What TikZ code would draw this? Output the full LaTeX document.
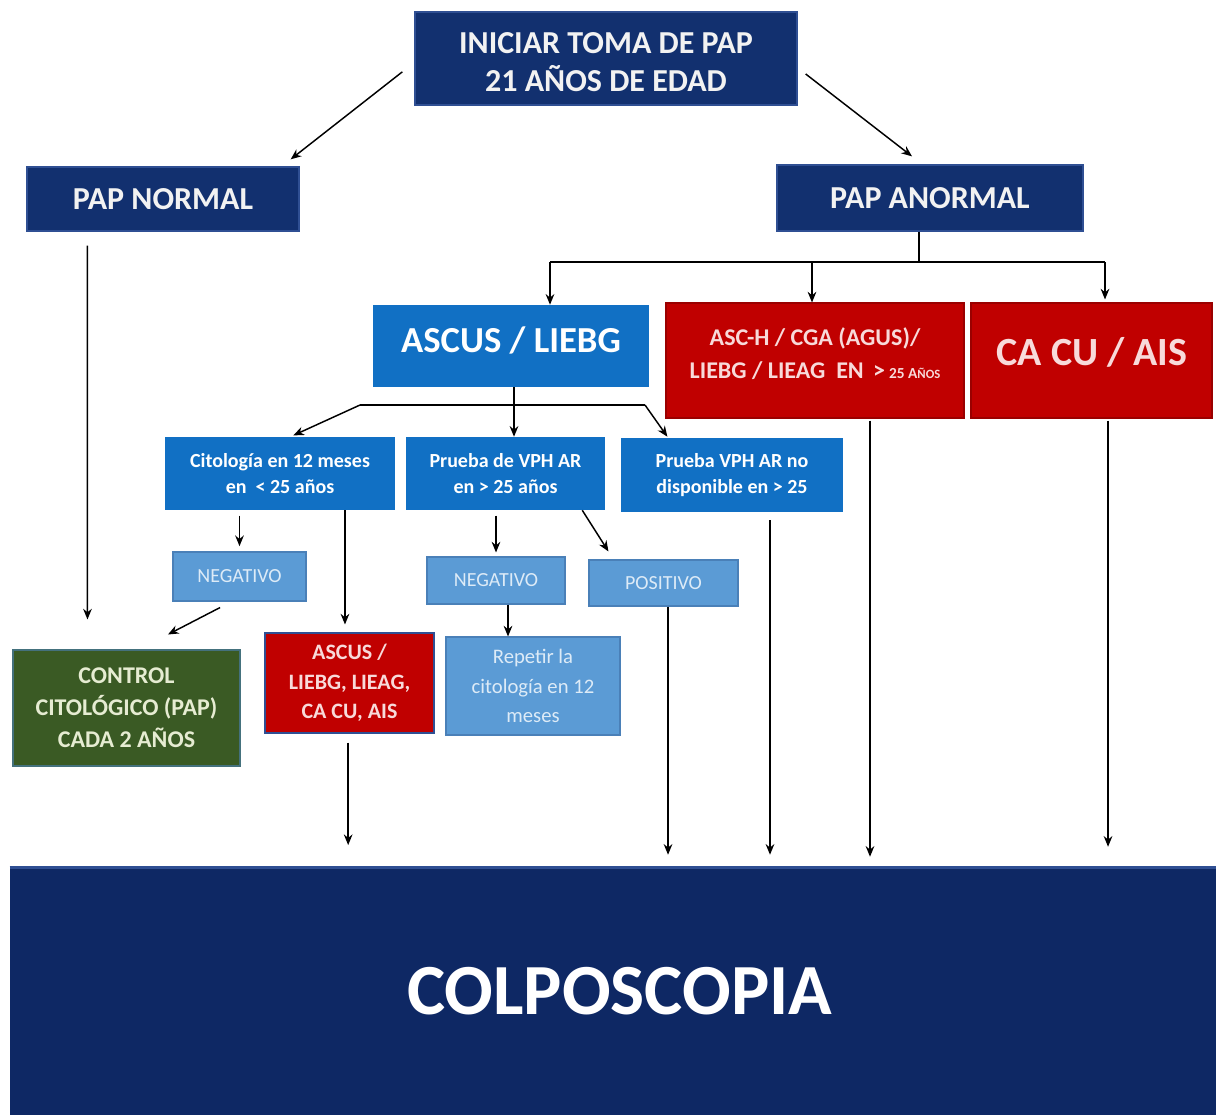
\documentclass[tikz,border=0pt]{standalone}
\usepackage{fontspec}
\setmainfont{Carlito}
\usetikzlibrary{arrows.meta}
\definecolor{navy}{HTML}{12306F}
\definecolor{navyb}{HTML}{2F4F93}
\definecolor{midblue}{HTML}{1170C4}
\definecolor{ltblue}{HTML}{5B9BD5}
\definecolor{ltblueb}{HTML}{4A80B8}
\definecolor{redbox}{HTML}{C00000}
\definecolor{greenbox}{HTML}{3A5A24}
\definecolor{colnavy}{HTML}{0E2864}
\definecolor{txtwhite}{HTML}{F2F2F2}
\definecolor{txtpink}{HTML}{F8DADA}
\definecolor{txtlb}{HTML}{DDEBF7}
\definecolor{txtgreen}{HTML}{E6ECD2}
\tikzset{
  box/.style={rectangle, inner sep=0pt, align=center, font=\bfseries},
  navybox/.style={box, fill=navy, draw=navyb, line width=1pt, text=txtwhite},
  midbox/.style={box, fill=midblue, text=white},
  ltbox/.style={box, fill=ltblue, draw=ltblueb, line width=0.8pt, text=txtlb, font=\mdseries},
  redb/.style={box, fill=redbox, draw=redbox!80!black, line width=0.8pt, text=txtpink},
  lbl/.style={inner sep=0pt, align=center},
  arr/.style={-{Stealth[length=8pt,width=6.5pt]}, line width=1.1pt, black},
  ln/.style={line width=1.1pt, black},
}
\begin{document}
\begin{tikzpicture}[x=0.75pt,y=-0.75pt]
\useasboundingbox (0,0) rectangle (1216,1115);
\fill[white] (0,0) rectangle (1216,1115);

% boxes
\node[navybox, minimum width=286.5pt, minimum height=69.75pt] (ini) at (606,58.5) {};
\node[lbl, text=txtwhite, font=\bfseries\fontsize{24}{29}\selectfont] (init) at (606,62) {INICIAR TOMA DE PAP\\21 AÑOS DE EDAD};
\node[navybox, minimum width=204pt, minimum height=48pt, font=\bfseries\fontsize{24}{29}\selectfont] (pn) at (163,199) {PAP NORMAL};
\node[navybox, minimum width=229.5pt, minimum height=49.5pt, font=\bfseries\fontsize{24}{29}\selectfont] (pa) at (930,198) {PAP ANORMAL};

\node[midbox, minimum width=207pt, minimum height=61.5pt] (asc) at (511,346) {};
\node[lbl, text=white, font=\bfseries\fontsize{27.5}{32}\selectfont] (asct) at (511,340) {ASCUS / LIEBG};
\node[redb, minimum width=223.5pt, minimum height=86.25pt] (asch) at (815,360.5) {};
\node[lbl, text=txtpink, font=\bfseries\fontsize{18}{24.75}\selectfont] (ascht) at (815,354) {ASC-H / CGA (AGUS)/\\LIEBG / LIEAG\ \ EN \,>\,{\fontsize{11.5}{12}\selectfont 25 A{\fontsize{9.5}{10}\selectfont ÑOS}}};
\node[redb, minimum width=180.75pt, minimum height=86.25pt] (cacu) at (1091.5,360.5) {};
\node[lbl, text=txtpink, font=\bfseries\fontsize{30}{34}\selectfont] (cacut) at (1092,352) {CA CU / AIS};

\node[midbox, minimum width=172.5pt, minimum height=54.75pt, font=\bfseries\fontsize{15}{20}\selectfont] (cit) at (280,473.5) {Citología en 12 meses\\en\ \ < 25 años};
\node[midbox, minimum width=149.25pt, minimum height=54.75pt, font=\bfseries\fontsize{15}{20}\selectfont] (vph) at (505.5,473.5) {Prueba de VPH AR\\en > 25 años};
\node[midbox, minimum width=166.5pt, minimum height=55.5pt, font=\bfseries\fontsize{15}{20}\selectfont] (vphno) at (732,475) {Prueba VPH AR no\\disponible en > 25};

\node[ltbox, minimum width=99.75pt, minimum height=36.75pt, font=\fontsize{15}{20}\selectfont] (neg1) at (239.5,576.5) {NEGATIVO};
\node[ltbox, minimum width=103.5pt, minimum height=35.25pt, font=\fontsize{15}{20}\selectfont] (neg2) at (496,580.5) {NEGATIVO};
\node[ltbox, minimum width=111.75pt, minimum height=34.5pt, font=\fontsize{15}{20}\selectfont] (pos) at (663.5,583) {POSITIVO};

\node[box, fill=greenbox, draw=ltblueb!60!greenbox, line width=0.8pt, text=txtgreen, minimum width=170.25pt, minimum height=87pt, font=\bfseries\fontsize{18}{24}\selectfont] (ctrl) at (126.5,708) {CONTROL\\CITOLÓGICO (PAP)\\CADA 2 AÑOS};
\node[redb, draw=navyb, minimum width=126.75pt, minimum height=75pt, font=\bfseries\fontsize{16.5}{22}\selectfont] (red2) at (349.5,683) {ASCUS /\\LIEBG, LIEAG,\\CA CU, AIS};
\node[ltbox, minimum width=130.5pt, minimum height=73.5pt, font=\fontsize{15.5}{22}\selectfont] (rep) at (533,686) {Repetir la\\citología en 12\\meses};

\node[box, fill=colnavy, minimum width=904.5pt, minimum height=185.25pt, text=white, font=\bfseries\fontsize{54}{60}\selectfont] (col) at (613,991.5) {\hspace*{10pt}COLPOSCOPIA};
\draw[navyb, line width=2pt] (col.north west) -- (col.north east);

% connectors from INICIAR
\draw[arr] ([xshift=-9pt,yshift=-10pt]ini.west) -- ([xshift=-6.75pt,yshift=5.25pt]pn.north east);
\draw[arr] ([xshift=6pt,yshift=-11.6pt]ini.east) -- ([xshift=-13.5pt,yshift=6pt]pa.north);

% PAP NORMAL down
\draw[arr] ([xshift=45.75pt,yshift=-10.5pt]pn.south west) -- ([xshift=56.25pt,yshift=22.5pt]ctrl.north west);

% PAP ANORMAL tree
\coordinate (pj) at (919,262);
\coordinate (hA) at (550,262);
\coordinate (hB) at (812,262);
\coordinate (hC) at (1105,262);
\draw[ln] (pa.south -| pj) -- (pj);
\draw[ln] (hA) -- (hC);
\draw[arr] (hA) -- (hA |- asc.north);
\draw[arr] (hB) -- (hB |- asch.north);
\draw[arr] (hC) -- ([yshift=2.25pt]hC |- cacu.north);

% ASCUS tree
\coordinate (aj) at (514,405);
\coordinate (aL) at (360,405);
\coordinate (aR) at (645,405);
\draw[ln] (asc.south -| aj) -- (aj);
\draw[ln] (aL) -- (aR);
\draw[arr] (aj) -- (aj |- vph.north);
\draw[arr] (aL) -- ([xshift=10pt,yshift=1pt]cit.north);
\draw[arr] (aR) -- ([xshift=35pt,yshift=0.75pt]vphno.north west);

% Citologia
\draw[arr] ([yshift=-4pt]cit.south -| neg1.north) -- ([yshift=4pt]neg1.north);
\draw[arr] ([xshift=-3.4pt]red2.north |- cit.south) -- ([xshift=-3.4pt,yshift=6pt]red2.north);
\draw[arr] ([xshift=-14.6pt,yshift=-4.5pt]neg1.south) -- ([xshift=31.1pt,yshift=11.25pt]ctrl.north);

% VPH
\draw[arr] ([yshift=-4pt]vph.south -| neg2.north) -- ([yshift=3pt]neg2.north);
\draw[arr] ([xshift=-17.25pt]vph.south east) -- ([xshift=15pt,yshift=6pt]pos.north west);
\draw[arr] ([xshift=9pt]neg2.south) -- ([xshift=9pt]neg2.south |- rep.north);

% to COLPOSCOPIA
\draw[arr, shorten >=9.75pt] ([xshift=3.4pt]pos.south) -- ([xshift=3.4pt]pos.south |- col.north);
\draw[arr, shorten <=6pt, shorten >=9.75pt] ([xshift=28.5pt]vphno.south) -- ([xshift=28.5pt]vphno.south |- col.north);
\draw[arr, shorten <=1.5pt, shorten >=8.25pt] ([xshift=41.25pt]asch.south) -- ([xshift=41.25pt]asch.south |- col.north);
\draw[arr, shorten <=1.5pt, shorten >=15.75pt] ([xshift=12.4pt]cacu.south) -- ([xshift=12.4pt]cacu.south |- col.north);
\draw[arr, shorten <=6.75pt, shorten >=17pt] ([xshift=-1pt]red2.south) -- ([xshift=-1pt]red2.south |- col.north);
\end{tikzpicture}
\end{document}
